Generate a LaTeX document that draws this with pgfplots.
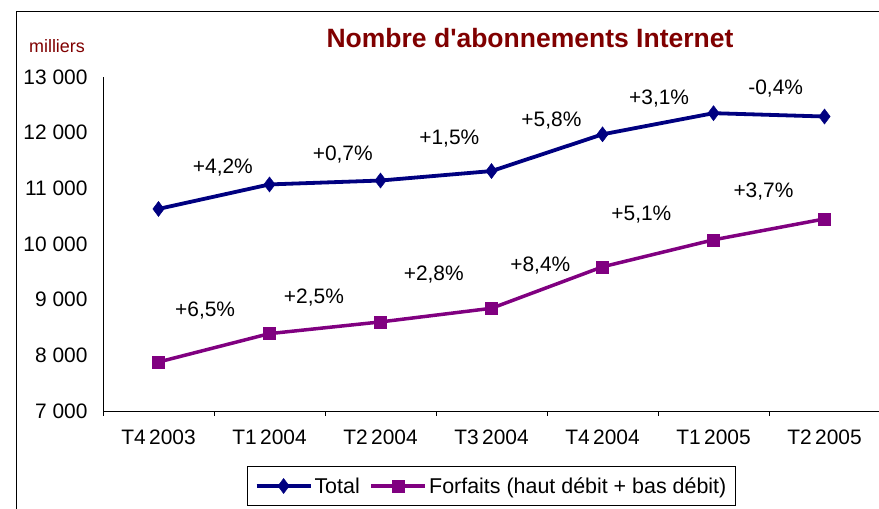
\documentclass[border=0pt]{standalone}
\usepackage{fontspec}
\setmainfont{Liberation Sans}
\usepackage{pgfplots}
\pgfplotsset{compat=1.18}
\definecolor{navyT}{RGB}{0,0,128}
\definecolor{purpF}{RGB}{128,0,128}
\definecolor{titred}{RGB}{128,0,0}
\begin{document}
\begin{tikzpicture}[x=1bp,y=1bp]
\begin{axis}[
  at={(103bp,98bp)}, anchor=south west, scale only axis,
  width=777bp, height=334bp,
  xmin=-0.5, xmax=6.5, ymin=7000, ymax=13000,
  axis x line*=bottom, axis y line*=left,
  axis line style={line width=0.8bp, black},
  scaled y ticks=false,
  xtick={0,...,6},
  xticklabels={T4\,2003,T1\,2004,T2\,2004,T3\,2004,T4\,2004,T1\,2005,T2\,2005},
  minor xtick={-0.5,0.5,...,6.5},
  ytick={7000,8000,...,13000},
  yticklabels={7 000,8 000,9 000,10 000,11 000,12 000,13 000},
  major tick length=0pt, minor tick length=5bp, tick align=outside,
  minor tick style={line width=0.8bp, black},
  ticklabel style={font=\fontsize{21}{25}\selectfont},
  yticklabel style={xshift=-12bp},
  xticklabel style={yshift=-15bp},
  legend style={at={(0.5,-0.2246)}, anchor=center, legend columns=2,
    draw=black, line width=0.8bp, font=\fontsize{21.5}{25}\selectfont,
    inner xsep=7bp, inner ysep=9bp,
    /tikz/every even column/.append style={column sep=8bp}},
  legend image code/.code={\draw[mark repeat=2,mark phase=2,#1] plot coordinates {(0bp,0bp) (27bp,0bp) (54bp,0bp)};},
  clip=false,
]
\addplot[navyT, line width=3.8bp, mark=diamond*, mark size=7.5bp, mark options={solid, fill=navyT, line width=0.5bp}]
  coordinates {(0,10630) (1,11070) (2,11140) (3,11310) (4,11970) (5,12350) (6,12290)};
\addlegendentry{Total}
\addplot[purpF, line width=3.5bp, mark=square*, mark size=6bp, mark options={solid, fill=purpF, line width=0.5bp}]
  coordinates {(0,7880) (1,8390) (2,8600) (3,8845) (4,9590) (5,10075) (6,10450)};
\addlegendentry{Forfaits (haut débit + bas débit)}
\begin{scope}[every node/.style={font=\fontsize{21}{25}\selectfont}]
\node at (axis cs:0.58,11370) {+4,2\%};
\node at (axis cs:1.66,11600) {+0,7\%};
\node at (axis cs:2.62,11890) {+1,5\%};
\node at (axis cs:3.54,12210) {+5,8\%};
\node at (axis cs:4.51,12605) {+3,1\%};
\node at (axis cs:5.56,12785) {-0,4\%};
\node at (axis cs:0.42,8800) {+6,5\%};
\node at (axis cs:1.40,9030) {+2,5\%};
\node at (axis cs:2.48,9460) {+2,8\%};
\node at (axis cs:3.44,9605) {+8,4\%};
\node at (axis cs:4.35,10520) {+5,1\%};
\node at (axis cs:5.45,10935) {+3,7\%};
\end{scope}
\end{axis}
\node[text=titred, font=\bfseries\fontsize{26.6}{30}\selectfont] at (530,471) {Nombre d\textquotesingle abonnements Internet};
\node[text=titred, font=\fontsize{18}{21}\selectfont] at (57,463) {milliers};
\draw[line width=0.8bp] (16,-20) -- (16,498) -- (900,498);
\pgfresetboundingbox
\useasboundingbox (0,0) rectangle (879,509);
\end{tikzpicture}
\end{document}
